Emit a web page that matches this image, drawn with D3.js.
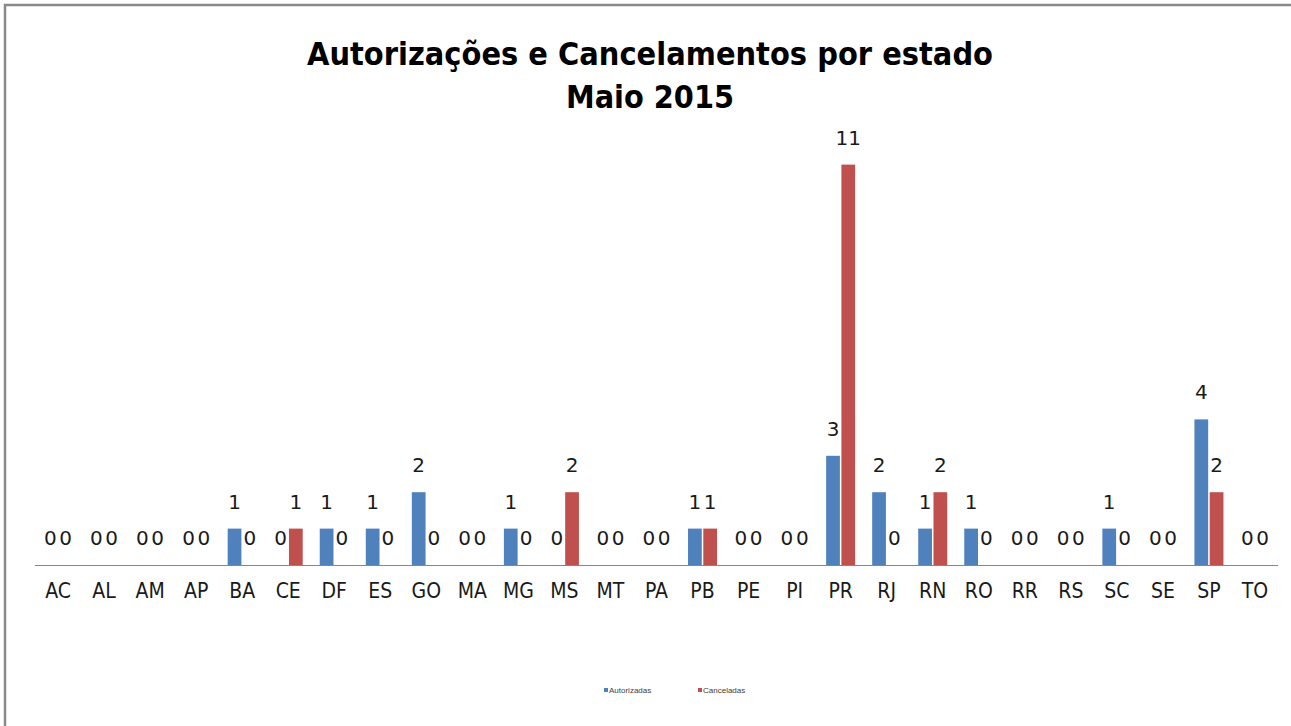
<!DOCTYPE html>
<html><head><meta charset="utf-8">
<script src="https://cdn.jsdelivr.net/npm/d3@7"></script>
<style>html,body{margin:0;padding:0;background:#fff;}</style>
</head><body>
<svg id="chart" width="1291" height="726"></svg>
<script>
const categories = ["AC","AL","AM","AP","BA","CE","DF","ES","GO","MA","MG","MS","MT","PA","PB","PE","PI","PR","RJ","RN","RO","RR","RS","SC","SE","SP","TO"];
const autorizadas = [0,0,0,0,1,0,1,1,2,0,1,0,0,0,1,0,0,3,2,1,1,0,0,1,0,4,0];
const canceladas  = [0,0,0,0,0,1,0,0,0,0,0,2,0,0,1,0,0,11,0,2,0,0,0,0,0,2,0];
const seriesNames = ["Autorizadas","Canceladas"];
const seriesColors = ["#4F81BD","#C0504D"];
const titleLines = ["Autorizações e Cancelamentos por estado","Maio 2015"];

const svg = d3.select("#chart");
const font = "'DejaVu Sans Condensed','DejaVu Sans',sans-serif";
const numFont = "'DejaVu Sans',sans-serif";

// border
svg.append("rect").attr("x",5).attr("y",5).attr("width",1300).attr("height",740)
  .attr("fill","none").attr("stroke","#8a8a8a").attr("stroke-width",2.5);

const baseY = 565;
const x = d3.scaleBand().domain(categories).range([35,1278]).padding(0);
const xs = d3.scaleBand().domain(seriesNames).range([-14.5,14.5]).paddingInner(0.1);
const y = d3.scaleLinear().domain([0,12]).range([baseY, baseY-12*36.4]);

const data = [autorizadas, canceladas];
const g = svg.append("g");
seriesNames.forEach((s,si)=>{
  const vals = data[si];
  const cx = c => x(c)+x.bandwidth()/2;
  g.selectAll(".bar"+si).data(categories).join("rect")
    .attr("x", c=>cx(c)+xs(s)).attr("width", xs.bandwidth())
    .attr("y", (c,i)=>y(vals[i])).attr("height",(c,i)=>baseY-y(vals[i]))
    .attr("fill", seriesColors[si]);
  g.selectAll(".lab"+si).data(categories).join("text")
    .attr("x", c=>cx(c)+xs(s)+xs.bandwidth()/2)
    .attr("y", (c,i)=>y(vals[i])-20)
    .attr("text-anchor","middle").attr("font-family",numFont).attr("font-size",20)
    .attr("fill","#1a1a1a").text((c,i)=>vals[i]);
});

// axis
const axis = d3.axisBottom(x).tickSize(0).tickPadding(0);
const ag = svg.append("g").attr("transform",`translate(0,${baseY+0.5})`).call(axis);
ag.select(".domain").attr("stroke","#868686").attr("d","M35,0H1278");
ag.selectAll("text").attr("font-family",font).attr("font-size",21).attr("fill","#1a1a1a")
  .attr("dy",null).attr("y",32);

// title
svg.append("text").attr("x",650).attr("y",65).attr("text-anchor","middle")
  .attr("font-family","'DejaVu Sans',sans-serif").attr("font-weight","bold").attr("font-size",32)
  .attr("textLength",686).attr("lengthAdjust","spacingAndGlyphs").attr("fill","#000").text(titleLines[0]);
svg.append("text").attr("x",650).attr("y",108).attr("text-anchor","middle")
  .attr("font-family","'DejaVu Sans',sans-serif").attr("font-weight","bold").attr("font-size",32)
  .attr("textLength",168).attr("lengthAdjust","spacingAndGlyphs").attr("fill","#000").text(titleLines[1]);

// legend
const legX = [604, 698];
seriesNames.forEach((s,i)=>{
  svg.append("rect").attr("x",legX[i]).attr("y",688).attr("width",4).attr("height",4).attr("fill",seriesColors[i]);
  svg.append("text").attr("x",legX[i]+5).attr("y",693).attr("font-family","'Liberation Sans',sans-serif")
    .attr("font-size",8).attr("fill","#404040").text(s);
});
</script>
</body></html>
